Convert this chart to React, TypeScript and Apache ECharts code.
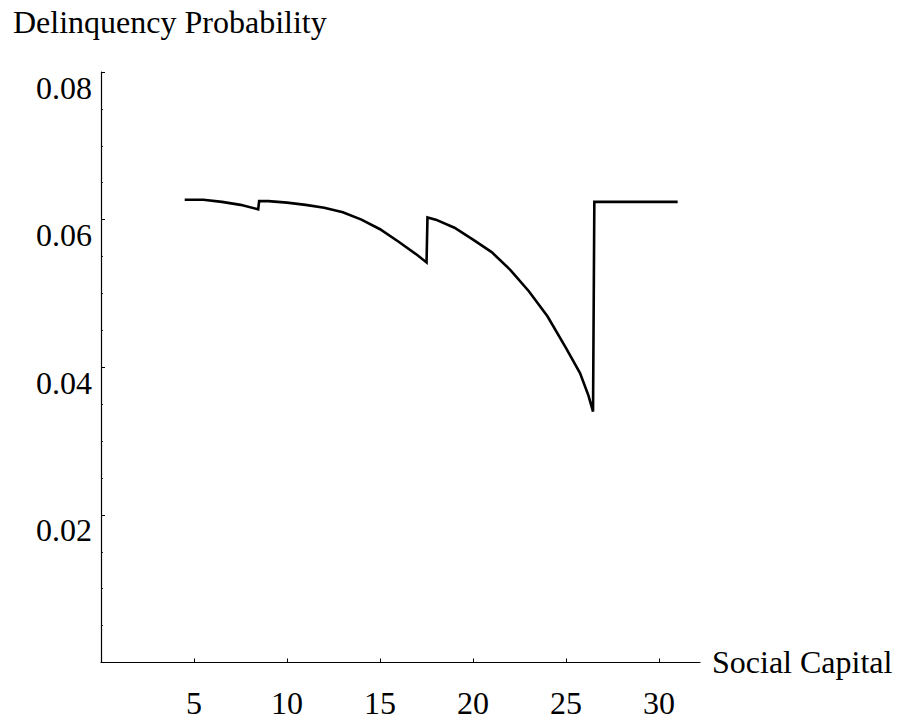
import React, { useEffect, useRef } from "react";
import * as echarts from "echarts";

const socialCapital = [4.5, 5.5, 6.5, 7.5, 8.45, 8.5, 9.0, 10.0, 11.0, 12.0, 13.0, 14.0, 15.0, 16.0, 17.0, 17.5, 17.55, 18.0, 19.0, 20.0, 21.0, 22.0, 23.0, 24.0, 25.0, 25.75, 26.2, 26.45, 26.52, 31.0];
const delinquency = [0.0627, 0.0627, 0.0624, 0.0620, 0.0614, 0.0625, 0.0625, 0.0623, 0.0620, 0.0616, 0.0610, 0.0600, 0.0587, 0.0570, 0.0552, 0.0542, 0.0603, 0.0600, 0.0589, 0.0573, 0.0556, 0.0532, 0.0503, 0.0469, 0.0426, 0.0392, 0.0362, 0.0340, 0.0624, 0.0624];
const xTicks = [5, 10, 15, 20, 25, 30];
const yTicks = [0.02, 0.04, 0.06, 0.08];
const xName = "Social Capital";
const yName = "Delinquency Probability";

const FONT = "'Liberation Serif', 'Times New Roman', serif";

export default function App() {
  const ref = useRef<HTMLDivElement>(null);
  useEffect(() => {
    if (!ref.current) return;
    const chart = echarts.init(ref.current, null, { renderer: "svg" });
    const data = socialCapital.map((x, i) => [x, delinquency[i]]);
    chart.setOption({
      animation: false,
      backgroundColor: "#ffffff",
      grid: { left: 101, right: 198, top: 72, bottom: 60.5, containLabel: false },
      xAxis: {
        type: "value",
        min: 0,
        max: 32.2,
        interval: 5,
        axisLine: { show: true, onZero: false, lineStyle: { color: "#000", width: 1.2 } },
        axisTick: { show: true, inside: true, length: 4, customValues: xTicks, lineStyle: { color: "#000", width: 1 } },
        axisLabel: {
          customValues: xTicks,
          fontSize: 32,
          lineHeight: 32,
          fontFamily: FONT,
          color: "#000",
          margin: 24,
        },
        splitLine: { show: false },
      },
      yAxis: {
        type: "value",
        min: 0,
        max: 0.08,
        interval: 0.02,
        axisLine: { show: true, onZero: false, lineStyle: { color: "#000", width: 1.2 } },
        axisTick: { show: true, inside: true, length: 4, lineStyle: { color: "#000", width: 1 } },
        minorTick: { show: true, splitNumber: 4, length: 2, lineStyle: { color: "#000", width: 0.8 } },
        axisLabel: {
          fontSize: 32,
          lineHeight: 31,
          fontFamily: FONT,
          color: "#000",
          margin: 9,
          verticalAlign: "top",
          formatter: (v: number) => {
            const m = yTicks.find((t) => Math.abs(t - v) < 1e-9);
            return m !== undefined ? m.toFixed(2) : "";
          },
        },
        splitLine: { show: false },
        minorSplitLine: { show: false },
      },
      graphic: [
        {
          type: "text",
          left: 13,
          top: 6,
          style: { text: yName, fontSize: 32, fontFamily: FONT, fill: "#000" },
        },
        {
          type: "text",
          left: 712,
          top: 646,
          style: { text: xName, fontSize: 32, fontFamily: FONT, fill: "#000" },
        },
      ],
      series: [
        {
          type: "line",
          data,
          showSymbol: false,
          smooth: false,
          lineStyle: { color: "#000", width: 2.6, join: "miter" },
        },
      ],
    });
    return () => chart.dispose();
  }, []);
  return (
    <div
      ref={ref}
      style={{ position: "absolute", left: 0, top: 0, width: 898, height: 723 }}
    />
  );
}
